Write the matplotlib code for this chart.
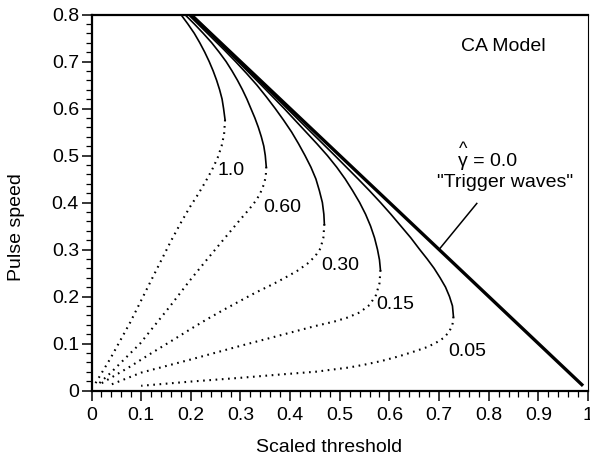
import matplotlib
matplotlib.use("Agg")
import matplotlib.pyplot as plt
from matplotlib.ticker import MultipleLocator, FixedLocator

plt.rcParams['font.family'] = ['Liberation Sans', 'DejaVu Sans']

# Trigger-wave line (gamma = 0)
trig_x = [0.20, 0.99]
trig_y = [0.80, 0.01]

# gamma labels
gammas = ["1.0", "0.60", "0.30", "0.15", "0.05"]

# solid (upper) branches
solid_x = {
    "1.0": [0.180, 0.194, 0.207, 0.218, 0.228, 0.237, 0.245, 0.252, 0.258, 0.263, 0.266, 0.269],
    "0.60": [0.188, 0.207, 0.225, 0.242, 0.257, 0.271, 0.283, 0.294, 0.304, 0.313, 0.321, 0.329,
             0.336, 0.342, 0.347, 0.350, 0.352],
    "0.30": [0.195, 0.219, 0.243, 0.267, 0.290, 0.312, 0.333, 0.352, 0.370, 0.387, 0.403, 0.417,
             0.430, 0.442, 0.452, 0.459, 0.465, 0.468, 0.469],
    "0.15": [0.199, 0.247, 0.295, 0.342, 0.388, 0.432, 0.454, 0.475, 0.494, 0.511, 0.526, 0.540,
             0.552, 0.562, 0.570, 0.576, 0.580, 0.582],
    "0.05": [0.202, 0.298, 0.394, 0.490, 0.537, 0.560, 0.582, 0.603, 0.623, 0.643, 0.661, 0.676,
             0.690, 0.702, 0.713, 0.721, 0.727, 0.729],
}
solid_y = {
    "1.0": [0.80, 0.78, 0.76, 0.74, 0.72, 0.70, 0.68, 0.66, 0.64, 0.62, 0.60, 0.576],
    "0.60": [0.80, 0.78, 0.76, 0.74, 0.72, 0.70, 0.68, 0.66, 0.64, 0.62, 0.60, 0.58,
             0.56, 0.54, 0.52, 0.50, 0.476],
    "0.30": [0.80, 0.775, 0.75, 0.725, 0.70, 0.675, 0.65, 0.625, 0.60, 0.575, 0.55, 0.525,
             0.50, 0.475, 0.45, 0.425, 0.40, 0.375, 0.354],
    "0.15": [0.80, 0.75, 0.70, 0.65, 0.60, 0.55, 0.525, 0.50, 0.475, 0.45, 0.425, 0.40,
             0.375, 0.35, 0.325, 0.30, 0.278, 0.256],
    "0.05": [0.80, 0.70, 0.60, 0.50, 0.45, 0.425, 0.40, 0.375, 0.35, 0.325, 0.30, 0.28,
             0.26, 0.24, 0.22, 0.20, 0.18, 0.157],
}

# dotted (lower) branches
dot_x = {
    "1.0": [0.269, 0.267, 0.262, 0.254, 0.243, 0.230, 0.215, 0.198, 0.180, 0.160, 0.140, 0.120,
            0.078, 0.038, 0.006],
    "0.60": [0.352, 0.351, 0.347, 0.340, 0.332, 0.317, 0.299, 0.265, 0.232, 0.198, 0.158, 0.098,
             0.038, 0.010],
    "0.30": [0.469, 0.467, 0.461, 0.450, 0.435, 0.415, 0.390, 0.365, 0.330, 0.300, 0.265, 0.230,
             0.200, 0.165, 0.120, 0.078, 0.018],
    "0.15": [0.582, 0.580, 0.573, 0.560, 0.540, 0.515, 0.490, 0.450, 0.400, 0.300, 0.200, 0.100,
             0.038],
    "0.05": [0.729, 0.727, 0.720, 0.708, 0.693, 0.675, 0.653, 0.620, 0.585, 0.550, 0.519, 0.452,
             0.380, 0.300, 0.200, 0.100],
}
dot_y = {
    "1.0": [0.576, 0.545, 0.520, 0.495, 0.470, 0.445, 0.418, 0.390, 0.357, 0.318, 0.276, 0.234,
            0.145, 0.068, 0.012],
    "0.60": [0.476, 0.455, 0.438, 0.420, 0.405, 0.385, 0.363, 0.320, 0.278, 0.234, 0.179, 0.100,
             0.037, 0.010],
    "0.30": [0.354, 0.325, 0.302, 0.285, 0.270, 0.255, 0.240, 0.226, 0.208, 0.191, 0.171, 0.150,
             0.131, 0.108, 0.079, 0.051, 0.014],
    "0.15": [0.256, 0.228, 0.203, 0.182, 0.166, 0.155, 0.147, 0.137, 0.123, 0.095, 0.066, 0.038,
             0.012],
    "0.05": [0.157, 0.140, 0.124, 0.111, 0.101, 0.092, 0.084, 0.073, 0.063, 0.055, 0.049, 0.040,
             0.034, 0.027, 0.019, 0.010],
}

# curve label positions
label_x = [0.281, 0.385, 0.501, 0.611, 0.757]
label_y = [0.469, 0.390, 0.267, 0.182, 0.082]

x_ticks = [0, 0.1, 0.2, 0.3, 0.4, 0.5, 0.6, 0.7, 0.8, 0.9, 1.0]
x_ticklabels = ["0", "0.1", "0.2", "0.3", "0.4", "0.5", "0.6", "0.7", "0.8", "0.9", "1"]
y_ticks = [0, 0.1, 0.2, 0.3, 0.4, 0.5, 0.6, 0.7, 0.8]
y_ticklabels = ["0", "0.1", "0.2", "0.3", "0.4", "0.5", "0.6", "0.7", "0.8"]

fig = plt.figure(figsize=(5.90, 4.62), dpi=100)
ax = fig.add_axes([91.5 / 590, (462 - 390.5) / 462, (588 - 91.5) / 590, (390.5 - 14.5) / 462])

ax.plot(trig_x, trig_y, color='black', lw=2.4, solid_capstyle='butt')
for g in gammas:
    ax.plot(solid_x[g], solid_y[g], color='black', lw=1.2, solid_joinstyle='round')
    ax.plot(dot_x[g], dot_y[g], color='black', lw=1.5, linestyle=(0, (0.8, 2.2)))

for g, lx, ly in zip(gammas, label_x, label_y):
    ax.text(lx, ly, g, fontsize=14, ha='center', va='center')

ax.text(0.829, 0.731, "CA Model", fontsize=14, ha='center', va='center')
ax.text(0.738, 0.478, "γ = 0.0", fontsize=14, ha='left', va='baseline')
ax.text(0.748, 0.503, "^", fontsize=13, ha='center', va='baseline')
ax.text(0.832, 0.4426, '"Trigger waves"', fontsize=14, ha='center', va='center')
ax.plot([0.776, 0.700], [0.398, 0.300], color='black', lw=1.1)

ax.set_xlim(0, 1)
ax.set_ylim(0, 0.8)
ax.xaxis.set_major_locator(FixedLocator(x_ticks))
ax.set_xticklabels(x_ticklabels)
ax.yaxis.set_major_locator(FixedLocator(y_ticks))
ax.set_yticklabels(y_ticklabels)
ax.xaxis.set_minor_locator(MultipleLocator(0.02))
ax.yaxis.set_minor_locator(MultipleLocator(0.02))
ax.tick_params(which='major', direction='out', length=7, width=1.1, labelsize=14)
ax.tick_params(axis='x', which='major', pad=5)
ax.tick_params(axis='y', which='major', pad=2)
ax.tick_params(which='minor', direction='out', length=4, width=0.9)

for side in ['left', 'bottom', 'top']:
    ax.spines[side].set_linewidth(1.6)
ax.spines['right'].set_linewidth(0.8)

ax.set_xlabel("Scaled threshold", fontsize=14)
ax.set_ylabel("Pulse speed", fontsize=14)
ax.xaxis.set_label_coords(0.4775, -0.13)
ax.yaxis.set_label_coords(-0.134, 0.436)

fig.savefig("out.png", dpi=100)
